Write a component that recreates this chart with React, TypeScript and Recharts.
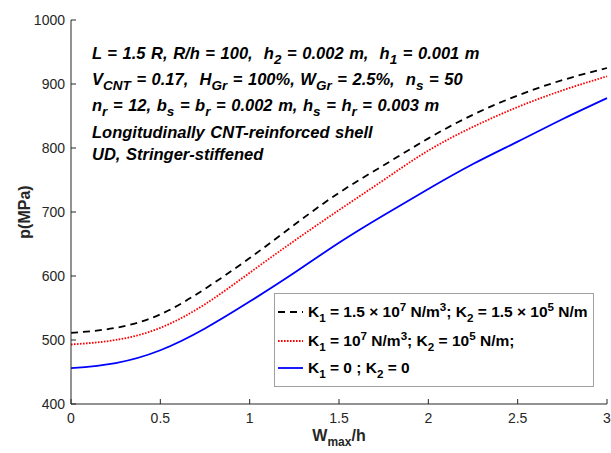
import React from 'react';
import { LineChart, Line, XAxis, YAxis } from 'recharts';

// W_max/h samples and postbuckling load p (MPa) for the three foundations
const wh = [0, 0.25, 0.5, 0.75, 1, 1.25, 1.5, 1.75, 2, 2.25, 2.5, 2.75, 3];
const pK15 = [511, 519, 540, 580, 628, 680, 730, 773, 815, 852, 882, 906, 925];
const pK10 = [493, 500, 519, 556, 605, 655, 703, 750, 796, 833, 864, 890, 912];
const pK0 = [456, 464, 484, 518, 560, 605, 652, 695, 736, 775, 810, 845, 878];

const xTicks = [0, 0.5, 1, 1.5, 2, 2.5, 3];
const yTicks = [400, 500, 600, 700, 800, 900, 1000];

const data = wh.map((w, i) => ({ w, k15: pK15[i], k10: pK10[i], k0: pK0[i] }));

const AXIS = '#262626';
const FONT = '"Liberation Sans", Arial, Helvetica, sans-serif';

type Part = [string, ('n' | 'sub' | 'sup')?];

// renders text with sub/superscripts as tspans
const rich = (parts: Part[], size: number, small = 0.75) => {
  let shift = 0;
  return parts.map(([t, kind = 'n'], i) => {
    const target = kind === 'sub' ? 5 : kind === 'sup' ? -6 : 0;
    const dy = target - shift;
    shift = target;
    return (
      <tspan key={i} dy={dy} fontSize={kind === 'n' ? size : size * small}>
        {t}
      </tspan>
    );
  });
};

const notes: Part[][] = [
  [['L = 1.5 R, R/h = 100,  h'], ['2', 'sub'], [' = 0.002 m,  h'], ['1', 'sub'], [' = 0.001 m']],
  [['V'], ['CNT', 'sub'], [' = 0.17,  H'], ['Gr', 'sub'], [' = 100%, W'], ['Gr', 'sub'], [' = 2.5%,  n'], ['s', 'sub'], [' = 50']],
  [['n'], ['r', 'sub'], [' = 12, b'], ['s', 'sub'], [' = b'], ['r', 'sub'], [' = 0.002 m, h'], ['s', 'sub'], [' = h'], ['r', 'sub'], [' = 0.003 m']],
  [['Longitudinally CNT-reinforced shell']],
  [['UD, Stringer-stiffened']],
];
const noteY = [59, 85, 111, 138, 160];

const legendItems: { parts: Part[]; color: string; dash?: string }[] = [
  {
    parts: [['K'], ['1', 'sub'], [' = 1.5 \u00d7 10'], ['7', 'sup'], [' N/m'], ['3', 'sup'], ['; K'], ['2', 'sub'], [' = 1.5 \u00d7 10'], ['5', 'sup'], [' N/m']],
    color: '#000000',
    dash: '7 5',
  },
  {
    parts: [['K'], ['1', 'sub'], [' = 10'], ['7', 'sup'], [' N/m'], ['3', 'sup'], ['; K'], ['2', 'sub'], [' = 10'], ['5', 'sup'], [' N/m;']],
    color: '#ff0000',
    dash: '1.6 1.4',
  },
  {
    parts: [['K'], ['1', 'sub'], [' = 0 ; K'], ['2', 'sub'], [' = 0']],
    color: '#0000ff',
  },
];
const legendY = [312, 341, 368];

const BottomTick = ({ x, y, payload }: any) => (
  <g>
    <line x1={x} x2={x} y1={y} y2={y - 5} stroke={AXIS} />
    <text x={x} y={y + 19} textAnchor="middle" fontSize={14} fill={AXIS} fontFamily={FONT}>
      {payload.value}
    </text>
  </g>
);
const TopTick = ({ x, y }: any) => <line x1={x} x2={x} y1={y} y2={y + 5} stroke={AXIS} />;
const LeftTick = ({ x, y, payload }: any) => (
  <g>
    <line x1={x} x2={x + 5} y1={y} y2={y} stroke={AXIS} />
    <text x={x - 6} y={y + 5} textAnchor="end" fontSize={14} fill={AXIS} fontFamily={FONT}>
      {payload.value}
    </text>
  </g>
);
const RightTick = ({ x, y }: any) => <line x1={x} x2={x - 5} y1={y} y2={y} stroke={AXIS} />;

export default function App() {
  return (
    <div style={{ position: 'absolute', left: 0, top: 0, width: 611, height: 453, background: '#fff' }}>
      <LineChart width={611} height={453} data={data} margin={{ top: 20, right: 4, bottom: 0, left: 0 }}>
        <XAxis
          dataKey="w"
          type="number"
          domain={[0, 3]}
          ticks={xTicks}
          height={49}
          tickSize={0}
          tickMargin={0}
          tickLine={false}
          tick={<BottomTick />}
          axisLine={{ stroke: AXIS }}
          interval={0}
        />
        <XAxis
          xAxisId="top"
          orientation="top"
          dataKey="w"
          type="number"
          domain={[0, 3]}
          ticks={xTicks}
          height={0}
          tickSize={0}
          tickMargin={0}
          tickLine={false}
          tick={<TopTick />}
          axisLine={{ stroke: AXIS }}
          interval={0}
        />
        <YAxis
          type="number"
          domain={[400, 1000]}
          ticks={yTicks}
          width={71}
          tickSize={0}
          tickMargin={0}
          tickLine={false}
          tick={<LeftTick />}
          axisLine={{ stroke: AXIS }}
          interval={0}
        />
        <YAxis
          yAxisId="right"
          orientation="right"
          type="number"
          domain={[400, 1000]}
          ticks={yTicks}
          width={0}
          tickSize={0}
          tickMargin={0}
          tickLine={false}
          tick={<RightTick />}
          axisLine={{ stroke: AXIS }}
          interval={0}
        />
        <Line type="natural" dataKey="k0" stroke="#0000ff" strokeWidth={1.8} dot={false} isAnimationActive={false} />
        <Line type="natural" dataKey="k10" stroke="#ff0000" strokeWidth={1.8} strokeDasharray="1.6 1.4" dot={false} isAnimationActive={false} />
        <Line type="natural" dataKey="k15" stroke="#000000" strokeWidth={1.8} strokeDasharray="7 5" dot={false} isAnimationActive={false} />
      </LineChart>

      <svg width={611} height={453} style={{ position: 'absolute', left: 0, top: 0, pointerEvents: 'none' }}>
        {/* annotation block */}
        {notes.map((parts, i) => (
          <text
            key={i}
            x={92}
            y={noteY[i]}
            fontFamily={FONT}
            fontWeight="bold"
            fontStyle="italic"
            fill="#000"
            style={{ whiteSpace: 'pre', wordSpacing: 1 }}
          >
            {rich(parts, 16.5, 0.82)}
          </text>
        ))}

        {/* legend */}
        <rect x={274.5} y={293.5} width={319} height={93} fill="#fff" stroke="#a0a0a0" />
        {legendItems.map((it, i) => (
          <g key={i}>
            <line x1={278} x2={303} y1={legendY[i]} y2={legendY[i]} stroke={it.color} strokeWidth={1.8} strokeDasharray={it.dash} />
            <text x={308} y={legendY[i] + 5} fontFamily={FONT} fontWeight="bold" fill="#000" style={{ whiteSpace: 'pre' }}>
              {rich(it.parts, 15.5)}
            </text>
          </g>
        ))}

        {/* axis labels */}
        <text x={339} y={441} textAnchor="middle" fontFamily={FONT} fontWeight="bold" fill={AXIS}>
          {rich([['W'], ['max', 'sub'], ['/h']], 16)}
        </text>
        <text
          transform="translate(30,212) rotate(-90)"
          textAnchor="middle"
          fontFamily={FONT}
          fontWeight="bold"
          fontSize={16}
          fill={AXIS}
        >
          p(MPa)
        </text>
      </svg>
    </div>
  );
}
